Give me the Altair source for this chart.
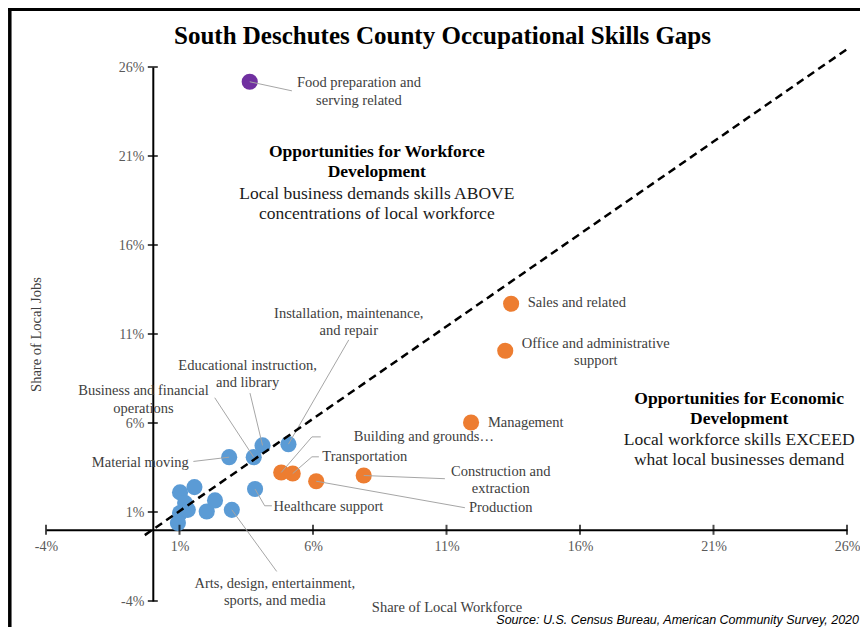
import altair as alt
import pandas as pd

# ---------------- data (shares in percent) ----------------
occupation = [
    "Food preparation and serving related",
    "Sales and related",
    "Office and administrative support",
    "Management",
    "Building and grounds cleaning and maintenance",
    "Transportation",
    "Production",
    "Construction and extraction",
    "Installation, maintenance, and repair",
    "Educational instruction and library",
    "Business and financial operations",
    "Material moving",
    "Healthcare support",
    "Arts, design, entertainment, sports, and media",
    "Unlabeled A", "Unlabeled B", "Unlabeled C", "Unlabeled D",
    "Unlabeled E", "Unlabeled F", "Unlabeled G", "Unlabeled H",
]
workforce_share = [3.63, 13.42, 13.20, 11.92, 4.81, 5.24, 6.12, 7.90,
                   5.08, 4.11, 3.78, 2.86, 3.83, 2.96,
                   1.02, 1.56, 1.21, 1.02, 1.31, 0.94, 2.02, 2.33]
jobs_share = [25.17, 12.70, 10.06, 6.03, 3.22, 3.16, 2.73, 3.05,
              4.81, 4.74, 4.08, 4.08, 2.29, 1.12,
              2.10, 2.40, 1.50, 0.94, 1.12, 0.38, 1.03, 1.65]
group = ["Food service"] + ["Large occupations"] * 7 + ["Other occupations"] * 14

group_names = ["Food service", "Large occupations", "Other occupations"]
group_colors = ["#7030A0", "#ED7D31", "#5B9BD5"]

tick_values = [-4, 1, 6, 11, 16, 21, 26]
diag_x = [-0.3, 26.0]
diag_y = [-0.3, 27.0]

label_text = [
    "Food preparation and\nserving related",
    "Sales and related",
    "Office and administrative\nsupport",
    "Management",
    "Building and grounds\u2026",
    "Transportation",
    "Production",
    "Construction and\nextraction",
    "Installation, maintenance,\nand repair",
    "Educational instruction,\nand library",
    "Business and financial\noperations",
    "Material moving",
    "Healthcare support",
    "Arts, design, entertainment,\nsports, and media",
]
label_x = [7.72, 14.04, 16.59, 12.55, 7.53, 6.35, 11.84, 13.03, 7.34, 3.55, -0.35, 1.35, 4.52, 4.57]
label_y = [25.08, 12.72, 10.45, 5.98, 5.20, 4.08, 1.22, 3.25, 12.13, 9.22, 7.78, 3.74, 1.29, -3.02]
label_align = ["center", "left", "center", "left", "left", "left", "left", "center",
               "center", "center", "center", "right", "left", "center"]
leader_bends = [
    [(5.21, 24.66)],
    [], [], [],
    [(5.96, 5.22), (6.29, 5.22)],
    [(5.96, 4.10), (6.22, 4.10)],
    [(11.69, 1.24)],
    [(10.94, 2.87)],
    [(7.34, 10.67)],
    [(3.64, 7.68)],
    [(2.32, 7.42)],
    [(1.52, 3.84)],
    [(4.19, 1.35), (4.46, 1.35)],
    [(4.64, -2.34)],
]

region_bold = ["Opportunities for Workforce\nDevelopment", "Opportunities for Economic\nDevelopment"]
region_text = ["Local business demands skills ABOVE\nconcentrations of local workforce",
               "Local workforce skills EXCEED\nwhat local businesses demand"]
region_x = [8.39, 21.96]
region_bold_y = [21.20, 7.35]
region_text_y = [18.88, 5.05]

title_text = "South Deschutes County Occupational Skills Gaps"
source_text = "Source: U.S. Census Bureau, American Community Survey, 2020"

# ---------------- tables ----------------
points = pd.DataFrame({"occupation": occupation, "workforce": workforce_share,
                       "jobs": jobs_share, "group": group})
labels = pd.DataFrame({"text": label_text, "x": label_x, "y": label_y, "align": label_align})
rows = []
for i, bends in enumerate(leader_bends):
    if not bends:
        continue
    path = [(workforce_share[i], jobs_share[i])] + bends
    for k, (px, py) in enumerate(path):
        rows.append({"id": i, "ord": k, "x": px, "y": py})
leaders = pd.DataFrame(rows)
diag = pd.DataFrame({"x": diag_x, "y": diag_y})
ticks = pd.DataFrame({"v": tick_values, "z": [0] * len(tick_values)})
regions = pd.DataFrame({"bold": region_bold, "text": region_text, "x": region_x,
                        "by": region_bold_y, "ty": region_text_y})

SERIF = "Liberation Serif"
W, H = 801, 534
PAD = {"left": 38, "top": 59, "right": 13, "bottom": 26}
xs = alt.Scale(domain=[-4, 26], nice=False, zero=False)
ys = alt.Scale(domain=[-4, 26], nice=False, zero=False)
x_zero_px = W * 4 / 30
y_zero_px = H - H * 4 / 30

x_axis = alt.Axis(values=tick_values, labelExpr="datum.value + '%'", offset=y_zero_px - H,
                  ticks=False, grid=False, domainColor="black", domainWidth=2,
                  labelFont=SERIF, labelFontSize=14, labelColor="#595959", labelPadding=10,
                  labelFlush=False, labelOverlap=False,
                  title="Share of Local Workforce", titleFont=SERIF, titleFontSize=14.5,
                  titleFontWeight="normal", titleColor="#404040", titleY=78,
                  titleBaseline="middle")
y_axis = alt.Axis(values=tick_values, labelExpr="datum.value + '%'", offset=-x_zero_px,
                  ticks=False, grid=False, domainColor="black", domainWidth=2,
                  labelFont=SERIF, labelFontSize=14, labelColor="#595959", labelPadding=9,
                  labelFlush=False, labelOverlap=False,
                  title="Share of Local Jobs", titleFont=SERIF, titleFontSize=14.5,
                  titleFontWeight="normal", titleColor="#404040",
                  titleX=-116, titleY=H / 2, titleAngle=-90, titleAlign="center",
                  titleBaseline="middle")


def X(field):
    return alt.X(field, scale=xs, axis=x_axis)


def Y(field):
    return alt.Y(field, scale=ys, axis=y_axis)


pts = alt.Chart(points).mark_circle(size=260, opacity=1).encode(
    x=X("workforce:Q"), y=Y("jobs:Q"),
    color=alt.Color("group:N", scale=alt.Scale(domain=group_names, range=group_colors), legend=None),
    tooltip=["occupation", "workforce", "jobs"],
)

xticks = alt.Chart(ticks).mark_tick(orient="vertical", size=10, thickness=2, color="black").encode(
    x=X("v:Q"), y=Y("z:Q"))
yticks = alt.Chart(ticks).mark_tick(orient="horizontal", size=10, thickness=2, color="black").encode(
    x=X("z:Q"), y=Y("v:Q"))

diag_line = alt.Chart(diag).mark_line(color="black", strokeWidth=2.5, strokeDash=[8, 5]).encode(
    x=X("x:Q"), y=Y("y:Q"))

leader_lines = alt.Chart(leaders).mark_line(color="#a6a6a6", strokeWidth=1).encode(
    x=X("x:Q"), y=Y("y:Q"), detail="id:N", order="ord:Q")


def label_layer(al):
    return alt.Chart(labels).transform_filter(alt.datum.align == al).mark_text(
        align=al, baseline="middle", font=SERIF, fontSize=14.5, color="#404040",
        lineBreak="\n", lineHeight=17.5).encode(x=X("x:Q"), y=Y("y:Q"), text="text:N")


region_b = alt.Chart(regions).mark_text(align="center", baseline="middle", font=SERIF, fontSize=17.5,
                                        fontWeight="bold", color="black", lineBreak="\n",
                                        lineHeight=20).encode(x=X("x:Q"), y=Y("by:Q"), text="bold:N")
region_t = alt.Chart(regions).mark_text(align="center", baseline="middle", font=SERIF, fontSize=17.5,
                                        color="#1a1a1a", lineBreak="\n",
                                        lineHeight=20.5).encode(x=X("x:Q"), y=Y("ty:Q"), text="text:N")

one = pd.DataFrame({"t": [title_text], "s": [source_text]})
title_mark = alt.Chart(one).mark_text(align="center", baseline="middle", font=SERIF, fontSize=25,
                                      fontWeight="bold", color="black").encode(
    x=alt.value(396.5), y=alt.value(-31), text="t:N")
source_mark = alt.Chart(one).mark_text(align="right", baseline="alphabetic", font="Liberation Sans",
                                       fontSize=12.5, fontStyle="italic", color="black").encode(
    x=alt.value(W + PAD["right"] - 1), y=alt.value(H + PAD["bottom"] - 3.5), text="s:N")

frame_top = alt.Chart(one).mark_rule(color="black", strokeWidth=3).encode(
    x=alt.value(-PAD["left"]), x2=alt.value(W + PAD["right"]), y=alt.value(-PAD["top"] + 1.5))
frame_left = alt.Chart(one).mark_rule(color="black", strokeWidth=3.5).encode(
    x=alt.value(-PAD["left"] + 1.8), y=alt.value(-PAD["top"]), y2=alt.value(H + PAD["bottom"]))

chart = alt.layer(
    pts, xticks, yticks, leader_lines, diag_line,
    label_layer("left"), label_layer("center"), label_layer("right"),
    region_b, region_t, title_mark, source_mark, frame_top, frame_left,
).properties(
    width=W, height=H,
    autosize=alt.AutoSizeParams(type="none"),
    padding=PAD,
    background="white",
).configure_view(stroke=None)

chart.save("out.html", embed_options={"renderer": "svg", "actions": False})
